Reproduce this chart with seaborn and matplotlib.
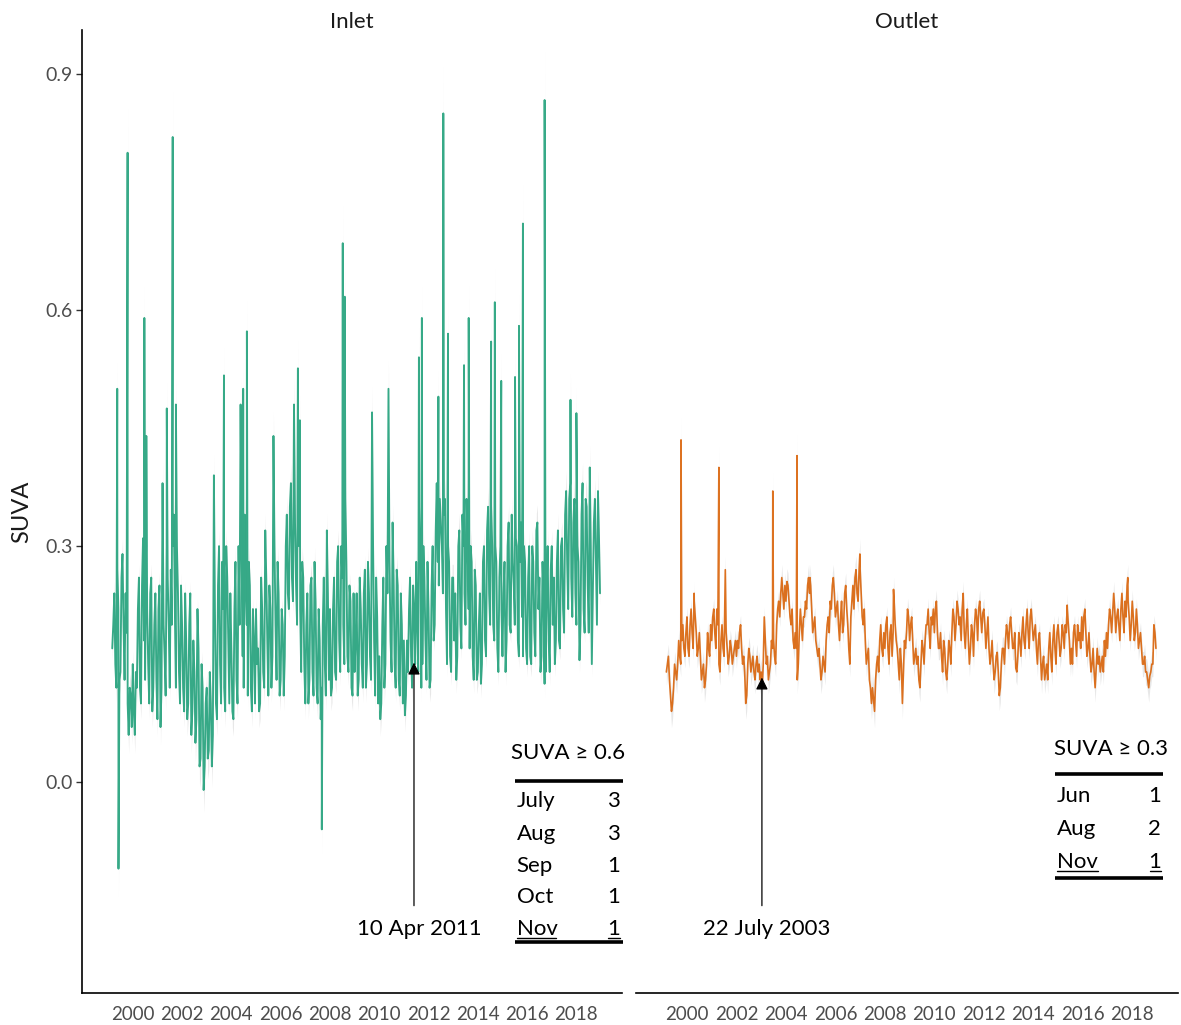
import numpy as np
import pandas as pd
import matplotlib
matplotlib.use("Agg")
import matplotlib.pyplot as plt
import seaborn as sns

# ---------------- data ----------------
start_year = 1999
start_month = 3  # first value is March 1999

# mid-month readings
inlet_monthly = [
    0.20, 0.15, 0.27, 0.13, 0.26, 0.20, 0.24, 0.10, 0.12, 0.07,                # 1999 (Mar-Dec)
    0.09, 0.14, 0.22, 0.12, 0.25, 0.18, 0.30, 0.15, 0.24, 0.09, 0.20, 0.13,    # 2000
    0.22, 0.07, 0.38, 0.16, 0.30, 0.20, 0.27, 0.30, 0.22, 0.30, 0.14, 0.25,    # 2001
    0.12, 0.24, 0.08, 0.20, 0.06, 0.18, 0.05, 0.22, 0.02, 0.15, -0.01, 0.10,   # 2002
    0.03, 0.14, 0.02, 0.39, 0.10, 0.25, 0.15, 0.28, 0.12, 0.30, 0.18, 0.24,    # 2003
    0.09, 0.22, 0.13, 0.30, 0.48, 0.16, 0.34, 0.20, 0.28, 0.12, 0.22, 0.10,    # 2004
    0.15, 0.09, 0.26, 0.14, 0.32, 0.18, 0.25, 0.12, 0.44, 0.20, 0.28, 0.11,    # 2005
    0.22, 0.11, 0.30, 0.24, 0.35, 0.26, 0.48, 0.25, 0.32, 0.22, 0.28, 0.15,    # 2006
    0.20, 0.10, 0.25, 0.14, 0.28, 0.12, 0.22, 0.08, 0.20, 0.15, 0.32, 0.13,    # 2007
    0.11, 0.22, 0.14, 0.28, 0.18, 0.30, 0.20, 0.36, 0.16, 0.25, 0.12, 0.24,    # 2008
    0.18, 0.11, 0.26, 0.15, 0.24, 0.12, 0.28, 0.16, 0.47, 0.18, 0.26, 0.10,    # 2009
    0.08, 0.20, 0.12, 0.30, 0.50, 0.18, 0.33, 0.15, 0.27, 0.13, 0.24, 0.10,    # 2010
    0.085, 0.18, 0.22, 0.16, 0.25, 0.15, 0.20, 0.35, 0.12, 0.30, 0.18, 0.28,   # 2011
    0.12, 0.25, 0.18, 0.32, 0.28, 0.36, 0.30, 0.34, 0.22, 0.30, 0.16, 0.26,    # 2012
    0.18, 0.13, 0.30, 0.20, 0.34, 0.24, 0.36, 0.22, 0.30, 0.16, 0.27, 0.13,    # 2013
    0.20, 0.125, 0.28, 0.18, 0.32, 0.24, 0.35, 0.20, 0.30, 0.17, 0.26, 0.22,   # 2014
    0.24, 0.14, 0.30, 0.20, 0.34, 0.25, 0.31, 0.18, 0.28, 0.21, 0.30, 0.17,    # 2015
    0.26, 0.16, 0.30, 0.19, 0.32, 0.22, 0.14, 0.28, 0.125, 0.24, 0.18, 0.27,   # 2016
    0.20, 0.15, 0.28, 0.18, 0.30, 0.22, 0.34, 0.28, 0.36, 0.26, 0.33, 0.24,    # 2017
    0.30, 0.155, 0.34, 0.22, 0.36, 0.25, 0.40, 0.15, 0.33, 0.28, 0.37, 0.24,   # 2018
]
# start-of-month readings
inlet_startmonth = [
    0.17, 0.24, 0.12, 0.22, 0.14, 0.29, 0.13, 0.19, 0.06, 0.11,                # 1999 (Mar-Dec)
    0.15, 0.06, 0.12, 0.26, 0.10, 0.31, 0.13, 0.22, 0.10, 0.26, 0.12, 0.24,    # 2000
    0.08, 0.25, 0.12, 0.20, 0.11, 0.26, 0.12, 0.20, 0.34, 0.12, 0.24, 0.10,    # 2001
    0.20, 0.09, 0.18, 0.10, 0.24, 0.09, 0.14, 0.08, 0.17, 0.03, 0.12, 0.02,    # 2002
    0.12, 0.04, 0.10, 0.06, 0.22, 0.08, 0.30, 0.10, 0.22, 0.09, 0.26, 0.10,    # 2003
    0.17, 0.08, 0.28, 0.10, 0.20, 0.30, 0.12, 0.26, 0.11, 0.25, 0.09, 0.18,    # 2004
    0.22, 0.17, 0.10, 0.22, 0.12, 0.26, 0.11, 0.22, 0.16, 0.30, 0.13, 0.24,    # 2005
    0.13, 0.20, 0.16, 0.34, 0.22, 0.38, 0.23, 0.33, 0.20, 0.30, 0.14, 0.26,    # 2006
    0.10, 0.24, 0.13, 0.26, 0.11, 0.23, 0.10, 0.18, 0.12, 0.26, 0.11, 0.24,    # 2007
    0.22, 0.12, 0.26, 0.13, 0.30, 0.14, 0.26, 0.15, 0.28, 0.14, 0.23, 0.11,    # 2008
    0.14, 0.24, 0.13, 0.22, 0.12, 0.27, 0.15, 0.24, 0.13, 0.30, 0.11, 0.21,    # 2009
    0.16, 0.10, 0.26, 0.15, 0.24, 0.28, 0.14, 0.26, 0.12, 0.25, 0.11, 0.20,    # 2010
    0.18, 0.11, 0.14, 0.26, 0.12, 0.22, 0.28, 0.14, 0.28, 0.15, 0.26, 0.13,    # 2011
    0.22, 0.13, 0.30, 0.20, 0.38, 0.25, 0.33, 0.24, 0.36, 0.15, 0.28, 0.14,    # 2012
    0.26, 0.24, 0.16, 0.32, 0.17, 0.30, 0.20, 0.31, 0.17, 0.28, 0.13, 0.25,    # 2013
    0.14, 0.24, 0.15, 0.30, 0.16, 0.35, 0.20, 0.30, 0.18, 0.28, 0.14, 0.30,    # 2014
    0.16, 0.28, 0.18, 0.33, 0.19, 0.28, 0.20, 0.30, 0.16, 0.33, 0.16, 0.28,    # 2015
    0.15, 0.30, 0.15, 0.28, 0.16, 0.33, 0.26, 0.16, 0.24, 0.14, 0.30, 0.14,    # 2016
    0.30, 0.26, 0.18, 0.32, 0.17, 0.31, 0.19, 0.37, 0.22, 0.38, 0.21, 0.36,    # 2017
    0.20, 0.28, 0.20, 0.38, 0.19, 0.35, 0.19, 0.30, 0.24, 0.36, 0.20, 0.31,    # 2018
]
inlet_spike_years = [1999.37, 1999.42, 1999.79, 2000.47, 2000.55, 2001.38, 2001.62,
                     2001.75, 2003.70, 2004.48, 2004.63, 2006.70, 2006.78, 2007.67,
                     2008.52, 2008.60, 2011.61, 2011.73, 2012.40, 2012.60, 2012.79,
                     2013.44, 2013.63, 2014.54, 2014.69, 2014.95, 2015.51, 2015.67,
                     2015.83, 2016.71, 2017.76, 2018.00]
inlet_spike_values = [0.50, -0.11, 0.80, 0.59, 0.44, 0.475, 0.82,
                      0.48, 0.517, 0.50, 0.573, 0.526, 0.46, -0.06,
                      0.685, 0.617, 0.54, 0.59, 0.49, 0.85, 0.57,
                      0.53, 0.59, 0.56, 0.61, 0.51, 0.515, 0.58,
                      0.71, 0.867, 0.486, 0.469]

outlet_monthly = [
    0.15, 0.13, 0.09, 0.12, 0.14, 0.15, 0.16, 0.18, 0.17, 0.19,                # 1999 (Mar-Dec)
    0.17, 0.20, 0.19, 0.23, 0.19, 0.17, 0.16, 0.14, 0.12, 0.15, 0.17, 0.20,    # 2000
    0.21, 0.19, 0.22, 0.15, 0.18, 0.17, 0.26, 0.17, 0.16, 0.17, 0.16, 0.18,    # 2001
    0.18, 0.19, 0.17, 0.16, 0.10, 0.15, 0.16, 0.15, 0.14, 0.15, 0.14, 0.13,    # 2002
    0.12, 0.21, 0.15, 0.13, 0.15, 0.17, 0.16, 0.20, 0.23, 0.24, 0.24, 0.25,    # 2003
    0.255, 0.23, 0.20, 0.18, 0.19, 0.13, 0.19, 0.20, 0.21, 0.23, 0.25, 0.24,   # 2004
    0.22, 0.20, 0.18, 0.16, 0.15, 0.14, 0.15, 0.18, 0.21, 0.23, 0.25, 0.24,    # 2005
    0.22, 0.20, 0.21, 0.19, 0.24, 0.22, 0.17, 0.21, 0.25, 0.26, 0.24, 0.27,    # 2006
    0.24, 0.20, 0.18, 0.16, 0.13, 0.10, 0.105, 0.13, 0.16, 0.18, 0.17, 0.19,   # 2007
    0.20, 0.17, 0.19, 0.16, 0.23, 0.18, 0.15, 0.17, 0.10, 0.18, 0.19, 0.21,    # 2008
    0.20, 0.18, 0.16, 0.15, 0.13, 0.15, 0.17, 0.18, 0.20, 0.19, 0.21, 0.22,    # 2009
    0.22, 0.19, 0.17, 0.16, 0.18, 0.14, 0.15, 0.17, 0.19, 0.21, 0.20, 0.22,    # 2010
    0.21, 0.22, 0.19, 0.20, 0.18, 0.17, 0.19, 0.20, 0.21, 0.22, 0.21, 0.215,   # 2011
    0.20, 0.19, 0.17, 0.16, 0.15, 0.14, 0.165, 0.11, 0.15, 0.17, 0.18, 0.19,   # 2012
    0.20, 0.19, 0.17, 0.145, 0.16, 0.18, 0.19, 0.18, 0.20, 0.19, 0.21, 0.20,   # 2013
    0.19, 0.17, 0.18, 0.16, 0.15, 0.13, 0.15, 0.17, 0.16, 0.18, 0.17, 0.19,    # 2014
    0.18, 0.17, 0.19, 0.20, 0.22, 0.18, 0.17, 0.19, 0.18, 0.20, 0.19, 0.21,    # 2015
    0.21, 0.19, 0.17, 0.16, 0.15, 0.14, 0.145, 0.15, 0.14, 0.16, 0.18, 0.19,   # 2016
    0.20, 0.21, 0.215, 0.22, 0.21, 0.20, 0.22, 0.21, 0.23, 0.25, 0.21, 0.20,   # 2017
    0.21, 0.19, 0.20, 0.18, 0.17, 0.15, 0.14, 0.13, 0.135, 0.15, 0.20, 0.17,   # 2018
]
outlet_startmonth = [
    0.14, 0.16, 0.11, 0.10, 0.15, 0.13, 0.18, 0.15, 0.20, 0.16,                # 1999 (Mar-Dec)
    0.21, 0.16, 0.22, 0.17, 0.21, 0.16, 0.19, 0.13, 0.15, 0.13, 0.19, 0.16,    # 2000
    0.18, 0.22, 0.17, 0.20, 0.14, 0.20, 0.16, 0.19, 0.15, 0.18, 0.15, 0.17,    # 2001
    0.16, 0.17, 0.20, 0.15, 0.14, 0.11, 0.17, 0.14, 0.16, 0.13, 0.16, 0.15,    # 2002
    0.14, 0.15, 0.18, 0.16, 0.14, 0.18, 0.18, 0.15, 0.22, 0.21, 0.26, 0.22,    # 2003
    0.23, 0.25, 0.21, 0.22, 0.17, 0.17, 0.15, 0.22, 0.18, 0.21, 0.22, 0.26,    # 2004
    0.25, 0.19, 0.21, 0.17, 0.17, 0.13, 0.16, 0.14, 0.20, 0.19, 0.22, 0.26,    # 2005
    0.21, 0.23, 0.18, 0.23, 0.20, 0.25, 0.20, 0.15, 0.23, 0.22, 0.27, 0.23,    # 2006
    0.27, 0.21, 0.22, 0.15, 0.17, 0.12, 0.12, 0.09, 0.15, 0.14, 0.20, 0.16,    # 2007
    0.17, 0.21, 0.15, 0.20, 0.19, 0.20, 0.17, 0.13, 0.15, 0.14, 0.17, 0.22,    # 2008
    0.18, 0.21, 0.15, 0.17, 0.16, 0.12, 0.18, 0.15, 0.20, 0.22, 0.17, 0.20,    # 2009
    0.19, 0.23, 0.17, 0.19, 0.14, 0.17, 0.13, 0.18, 0.15, 0.22, 0.18, 0.23,    # 2010
    0.20, 0.18, 0.24, 0.17, 0.22, 0.15, 0.20, 0.16, 0.22, 0.18, 0.23, 0.19,    # 2011
    0.22, 0.17, 0.21, 0.15, 0.18, 0.13, 0.16, 0.14, 0.12, 0.17, 0.15, 0.20,    # 2012
    0.17, 0.21, 0.17, 0.19, 0.14, 0.19, 0.16, 0.21, 0.17, 0.22, 0.17, 0.22,    # 2013
    0.18, 0.20, 0.15, 0.19, 0.13, 0.16, 0.14, 0.13, 0.19, 0.14, 0.20, 0.15,    # 2014
    0.20, 0.16, 0.20, 0.17, 0.19, 0.20, 0.15, 0.15, 0.20, 0.16, 0.18, 0.17,    # 2015
    0.18, 0.22, 0.16, 0.19, 0.14, 0.17, 0.12, 0.17, 0.16, 0.15, 0.14, 0.16,    # 2016
    0.17, 0.22, 0.19, 0.24, 0.19, 0.22, 0.18, 0.24, 0.19, 0.21, 0.23, 0.18,    # 2017
    0.23, 0.18, 0.22, 0.17, 0.19, 0.15, 0.16, 0.14, 0.12, 0.14, 0.15, 0.19,    # 2018
]
outlet_spike_years = [1999.76, 2000.29, 2001.29, 2001.55, 2003.47, 2004.45, 2004.97,
                      2006.99, 2008.35, 2015.37, 2017.82]
outlet_spike_values = [0.435, 0.24, 0.40, 0.27, 0.37, 0.415, 0.26,
                       0.29, 0.245, 0.225, 0.26]

tick_years = list(range(2000, 2019, 2))
y_ticks = [0.0, 0.3, 0.6, 0.9]
panel_titles = ["Inlet", "Outlet"]

inlet_table_title = "SUVA \u2265 0.6"
inlet_table_months = ["July", "Aug", "Sep", "Oct", "Nov"]
inlet_table_counts = ["3", "3", "1", "1", "1"]
outlet_table_title = "SUVA \u2265 0.3"
outlet_table_months = ["Jun", "Aug", "Nov"]
outlet_table_counts = ["1", "2", "1"]

inlet_arrow = ("10 Apr 2011", 2011.41, 0.152)
outlet_arrow = ("22 July 2003", 2003.03, 0.133)


# ---------------- build frames ----------------
def build(monthly, startmonth, spike_x, spike_y):
    idx = np.arange(len(monthly))
    mid_years = start_year + (start_month - 1 + idx + 0.5) / 12.0
    st_years = start_year + (start_month - 1 + idx) / 12.0
    df = pd.DataFrame({"year": np.concatenate([st_years, mid_years, spike_x]),
                       "suva": np.concatenate([startmonth, monthly, spike_y])})
    df = df.sort_values("year").reset_index(drop=True)
    half = 0.012 + 0.08 * np.abs(df["suva"] - 0.2)   # width of the grey ribbon
    df["lo"] = df["suva"] - half
    df["hi"] = df["suva"] + half
    return df


inlet = build(inlet_monthly, inlet_startmonth, inlet_spike_years, inlet_spike_values)
outlet = build(outlet_monthly, outlet_startmonth, outlet_spike_years, outlet_spike_values)

# ---------------- figure ----------------
sns.set_theme(style="white")
plt.rcParams['font.family'] = ['Lato', 'DejaVu Sans']

W, H = 1181, 1025
fig = plt.figure(figsize=(W / 100, H / 100), dpi=100)
bottom = 1 - 993 / H
height = (993 - 30) / H
axL = fig.add_axes([82 / W, bottom, (622 - 82) / W, height])
axR = fig.add_axes([636 / W, bottom, (1178 - 636) / W, height])

xlim = (1997.94, 2019.85)
ylim = (-0.268, 0.956)

for ax, df, col, lw, title in [(axL, inlet, "#1b9e77", 1.35, panel_titles[0]),
                               (axR, outlet, "#d95f02", 1.2, panel_titles[1])]:
    ax.fill_between(df["year"], df["lo"], df["hi"], color="#bdbdbd", alpha=0.35, lw=0)
    sns.lineplot(data=df, x="year", y="suva", ax=ax, color=col, lw=lw,
                 alpha=0.88, estimator=None, sort=True)
    ax.set_xlim(*xlim)
    ax.set_ylim(*ylim)
    ax.set_xticks(tick_years)
    ax.set_xticklabels([str(t) for t in tick_years], fontsize=13.5, color="#4d4d4d")
    ax.set_xlabel("")
    ax.set_title(title, fontsize=16, color="#1a1a1a", pad=1.5)
    for s in ["top", "right"]:
        ax.spines[s].set_visible(False)
    ax.spines["bottom"].set_color("black")
    ax.spines["bottom"].set_linewidth(1.2)
    ax.tick_params(axis="x", direction="out", length=4, width=1, color="#333333", pad=5)
    ax.grid(False)

axL.set_yticks(y_ticks)
axL.set_yticklabels([f"{v:.1f}" for v in y_ticks], fontsize=14, color="#4d4d4d")
axL.tick_params(axis="y", direction="out", length=4, width=1, color="#333333", left=True, pad=3)
axL.spines["left"].set_color("black")
axL.spines["left"].set_linewidth(1.2)
axL.set_ylabel("SUVA", fontsize=17, color="#1a1a1a", labelpad=9)

axR.spines["left"].set_visible(False)
axR.set_yticks([])
axR.set_ylabel("")

# ---------------- annotations ----------------
ann_font = dict(family=['Lato', 'DejaVu Sans'], fontsize=16, color="black")

for ax, (label, x, ytip), tx in [(axL, inlet_arrow, 2011.62), (axR, outlet_arrow, 2003.23)]:
    ax.annotate("", xy=(x, ytip), xytext=(x, -0.157),
                arrowprops=dict(arrowstyle="-|>", color="black", lw=0.9,
                                mutation_scale=18, shrinkA=0, shrinkB=0))
    ax.text(tx, -0.1945, label, ha="center", va="baseline", **ann_font)


def table(ax, title, title_x, title_y, months, counts, x0, x1, tl, tr, row_y,
          top_line_y, uline_y, bottom_line_y, nov_end, one_start):
    ax.text(title_x, title_y, title, ha="center", va="baseline", **ann_font)
    ax.plot([x0, x1], [top_line_y, top_line_y], color="black", lw=2.6,
            solid_capstyle="butt", clip_on=False)
    for m, c, y in zip(months, counts, row_y):
        ax.text(tl, y, m, ha="left", va="baseline", **ann_font)
        ax.text(tr, y, c, ha="right", va="baseline", **ann_font)
    ax.plot([tl, nov_end], [uline_y, uline_y], color="black", lw=1.0, clip_on=False)
    ax.plot([one_start, tr], [uline_y, uline_y], color="black", lw=1.0, clip_on=False)
    ax.plot([x0, x1], [bottom_line_y, bottom_line_y], color="black", lw=2.6,
            solid_capstyle="butt", clip_on=False)


table(axL, inlet_table_title, 2017.66, 0.0289, inlet_table_months, inlet_table_counts,
      2015.51, 2019.89, 2015.57, 2019.76,
      [-0.0314, -0.0737, -0.114, -0.154, -0.1945],
      0.0013, -0.1985, -0.2038, 2017.17, 2019.28)

table(axR, outlet_table_title, 2017.14, 0.0343, outlet_table_months, outlet_table_counts,
      2014.87, 2019.24, 2014.96, 2019.16,
      [-0.025, -0.0674, -0.1097],
      0.0102, -0.1135, -0.1224, 2016.62, 2018.71)

fig.savefig("out.png", dpi=100)
